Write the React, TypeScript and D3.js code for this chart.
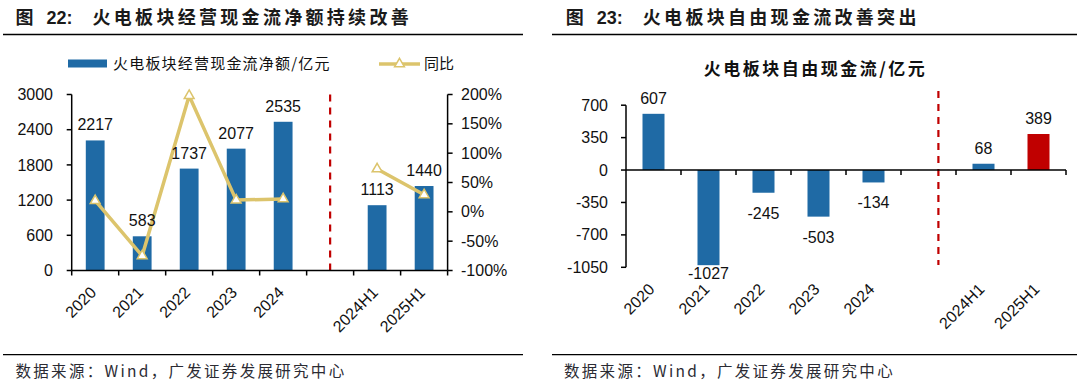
import React from "react";
import * as d3 from "d3";

// ---------- data ----------
const leftCats = ["2020", "2021", "2022", "2023", "2024", "gap", "2024H1", "2025H1"];
const leftLabels = ["2020", "2021", "2022", "2023", "2024", "", "2024H1", "2025H1"];
const opCash: (number | null)[] = [2217, 583, 1737, 2077, 2535, null, 1113, 1440];
const opYoY: (number | null)[] = [19, -75, 198, 20, 22, null, 73, 29];
const leftTicks = [0, 600, 1200, 1800, 2400, 3000];
const rightTicks = [-100, -50, 0, 50, 100, 150, 200];

const rightCats = ["2020", "2021", "2022", "2023", "2024", "gap", "2024H1", "2025H1"];
const rightLabels = ["2020", "2021", "2022", "2023", "2024", "", "2024H1", "2025H1"];
const freeCash: (number | null)[] = [607, -1027, -245, -503, -134, null, 68, 389];
const fcfTicks = [-1050, -700, -350, 0, 350, 700];

const BLUE = "#1F6AA5";
const RED = "#C00000";
const GOLD = "#DCC46C";
const FONT = "'Liberation Sans', Arial, 'Noto Sans CJK SC', sans-serif";
const CJK = "'Noto Sans CJK SC', 'Liberation Sans', sans-serif";

function LeftChart() {
  const x = d3.scaleBand<string>().domain(leftCats).range([71.7, 447.6]);
  const y = d3.scaleLinear().domain([0, 3000]).range([270.5, 94.5]);
  const yr = d3.scaleLinear().domain([-100, 200]).range([270.5, 94.5]);
  const bw = x.bandwidth();
  const barW = bw * 0.4;
  const cx = (c: string) => (x(c) as number) + bw / 2;
  const line = d3
    .line<number | null>()
    .defined((d) => d != null)
    .x((_, i) => cx(leftCats[i]))
    .y((d) => yr(d as number));
  const tri = d3.symbol().type(d3.symbolTriangle).size(42)();
  const bottom = y(0);
  return (
    <g>
      {opCash.map((v, i) =>
        v == null ? null : (
          <rect key={i} x={cx(leftCats[i]) - barW / 2} y={y(v)} width={barW} height={bottom - y(v)} fill={BLUE} />
        )
      )}
      <line x1={cx("gap")} x2={cx("gap")} y1={y(3000)} y2={bottom} stroke={RED} strokeWidth={2.2} strokeDasharray="7,6" />
      <path d={line(opYoY) || ""} fill="none" stroke={GOLD} strokeWidth={3.5} strokeLinejoin="round" />
      {opYoY.map((v, i) =>
        v == null ? null : (
          <path key={i} d={tri || ""} transform={`translate(${cx(leftCats[i])},${yr(v)})`} fill="#fff" stroke={GOLD} strokeWidth={1.5} />
        )
      )}
      {opCash.map((v, i) =>
        v == null ? null : (
          <text key={i} x={cx(leftCats[i])} y={y(v) - 10} textAnchor="middle" fontSize={16} fill="#111" fontFamily={FONT}>
            {v}
          </text>
        )
      )}
      <line x1={x.range()[0]} x2={x.range()[1]} y1={bottom} y2={bottom} stroke="#000" strokeWidth={1.5} />
      <line x1={x.range()[0]} x2={x.range()[0]} y1={y(3000)} y2={bottom} stroke="#000" strokeWidth={1.5} />
      <line x1={x.range()[1]} x2={x.range()[1]} y1={y(3000)} y2={bottom} stroke="#000" strokeWidth={1.5} />
      {leftCats.map((c, i) => (
        <line key={"bt" + i} x1={x(c) as number} x2={x(c) as number} y1={bottom} y2={bottom + 5} stroke="#000" strokeWidth={1.5} />
      ))}
      <line x1={x.range()[1]} x2={x.range()[1]} y1={bottom} y2={bottom + 5} stroke="#000" strokeWidth={1.5} />
      {leftTicks.map((t) => (
        <g key={"lt" + t}>
          <line x1={x.range()[0] - 5} x2={x.range()[0]} y1={y(t)} y2={y(t)} stroke="#000" strokeWidth={1.5} />
          <text x={53} y={y(t)} dy="0.35em" textAnchor="end" fontSize={16} fill="#111" fontFamily={FONT}>
            {t}
          </text>
        </g>
      ))}
      {rightTicks.map((t) => (
        <g key={"rt" + t}>
          <line x1={x.range()[1]} x2={x.range()[1] + 5} y1={yr(t)} y2={yr(t)} stroke="#000" strokeWidth={1.5} />
          <text x={461} y={yr(t)} dy="0.35em" textAnchor="start" fontSize={16} fill="#111" fontFamily={FONT}>
            {t + "%"}
          </text>
        </g>
      ))}
      {leftLabels.map((l, i) =>
        l === "" ? null : (
          <text
            key={"xl" + i}
            transform={`translate(${cx(leftCats[i]) + 2},${bottom + 23}) rotate(-45)`}
            textAnchor="end"
            fontSize={16}
            fill="#111"
            fontFamily={FONT}
          >
            {l}
          </text>
        )
      )}
      <rect x={68} y={59.5} width={39} height={8} fill={BLUE} />
      <text x={113} y={64} dy="0.35em" fontSize={15} letterSpacing={1.2} fill="#111" fontFamily={CJK}>
        火电板块经营现金流净额/亿元
      </text>
      <line x1={379} x2={420} y1={64} y2={64} stroke={GOLD} strokeWidth={3.5} />
      <path d={tri || ""} transform="translate(399.5,64)" fill="#fff" stroke={GOLD} strokeWidth={1.5} />
      <text x={424} y={64} dy="0.35em" fontSize={15} fill="#111" fontFamily={CJK}>
        同比
      </text>
    </g>
  );
}

function RightChart() {
  const x = d3.scaleBand<string>().domain(rightCats).range([626, 1066]);
  const y = d3.scaleLinear().domain([-1050, 700]).range([267.3, 105.2]);
  const bw = x.bandwidth();
  const barW = bw * 0.4;
  const cx = (c: string) => (x(c) as number) + bw / 2;
  const zero = y(0);
  const plotBottom = y(-1050);
  const sepX = (x("gap") as number) + bw * 0.68;
  return (
    <g>
      {freeCash.map((v, i) =>
        v == null ? null : (
          <rect
            key={i}
            x={cx(rightCats[i]) - barW / 2}
            y={Math.min(y(v), zero)}
            width={barW}
            height={Math.abs(y(v) - zero)}
            fill={i === freeCash.length - 1 ? RED : BLUE}
          />
        )
      )}
      <line x1={sepX} x2={sepX} y1={91} y2={265} stroke={RED} strokeWidth={2.2} strokeDasharray="7,6" />
      {freeCash.map((v, i) =>
        v == null ? null : (
          <text
            key={"l" + i}
            x={cx(rightCats[i])}
            y={v >= 0 ? y(v) - 10 : Math.min(y(v) + 26, plotBottom + 12)}
            textAnchor="middle"
            fontSize={16}
            fill="#111"
            fontFamily={FONT}
          >
            {v}
          </text>
        )
      )}
      <line x1={x.range()[0]} x2={x.range()[1]} y1={zero} y2={zero} stroke="#000" strokeWidth={1.5} />
      <line x1={x.range()[0]} x2={x.range()[0]} y1={y(700)} y2={plotBottom} stroke="#000" strokeWidth={1.5} />
      {rightCats.map((c, i) =>
        i === 0 ? null : (
          <line key={"bt" + i} x1={x(c) as number} x2={x(c) as number} y1={zero} y2={zero + 5} stroke="#000" strokeWidth={1.5} />
        )
      )}
      <line x1={x.range()[1]} x2={x.range()[1]} y1={zero} y2={zero + 5} stroke="#000" strokeWidth={1.5} />
      {fcfTicks.map((t) => (
        <g key={"t" + t}>
          <line x1={x.range()[0] - 5} x2={x.range()[0]} y1={y(t)} y2={y(t)} stroke="#000" strokeWidth={1.5} />
          <text x={608} y={y(t)} dy="0.35em" textAnchor="end" fontSize={16} fill="#111" fontFamily={FONT}>
            {t}
          </text>
        </g>
      ))}
      {rightLabels.map((l, i) =>
        l === "" ? null : (
          <text
            key={"xl" + i}
            transform={`translate(${cx(rightCats[i]) + 2},${plotBottom + 23}) rotate(-45)`}
            textAnchor="end"
            fontSize={16}
            fill="#111"
            fontFamily={FONT}
          >
            {l}
          </text>
        )
      )}
      <text x={815.5} y={69} dy="0.35em" textAnchor="middle" fontSize={17} fontWeight="bold" letterSpacing={2.5} fill="#111" fontFamily={CJK}>
        火电板块自由现金流/亿元
      </text>
    </g>
  );
}

function Header({ x0, num, title, lineX1, lineX2 }: { x0: number; num: string; title: string; lineX1: number; lineX2: number }) {
  return (
    <g fontFamily={CJK} fontWeight="bold" fill="#1a1a1a">
      <text x={x0} y={18} dy="0.35em" fontSize={18}>
        图
      </text>
      <text x={x0 + 31} y={18} dy="0.35em" fontSize={18} fontFamily={FONT}>
        {num + ":"}
      </text>
      <text x={x0 + 77} y={18} dy="0.35em" fontSize={18} letterSpacing={3.3}>
        {title}
      </text>
      <line x1={lineX1} x2={lineX2} y1={34.4} y2={34.4} stroke="#000" strokeWidth={1.5} />
    </g>
  );
}

function Footer({ x0, lineX1, lineX2 }: { x0: number; lineX1: number; lineX2: number }) {
  return (
    <g>
      <line x1={lineX1} x2={lineX2} y1={354.7} y2={354.7} stroke="#000" strokeWidth={1.2} />
      <text x={x0} y={371.5} dy="0.35em" fontSize={15.5} letterSpacing={2.3} fill="#2b2b33" fontFamily={CJK}>
        数据来源：Wind，广发证券发展研究中心
      </text>
    </g>
  );
}

export default function App() {
  return (
    <svg
      width={1080}
      height={382}
      viewBox="0 0 1080 382"
      style={{ position: "absolute", left: 0, top: 0, background: "#fff" }}
    >
      <rect x={0} y={0} width={1080} height={382} fill="#fff" />
      <Header x0={15.5} num="22" title="火电板块经营现金流净额持续改善" lineX1={3} lineX2={523} />
      <Header x0={565.8} num="23" title="火电板块自由现金流改善突出" lineX1={552} lineX2={1077} />
      <LeftChart />
      <RightChart />
      <Footer x0={15.5} lineX1={3} lineX2={523} />
      <Footer x0={564} lineX1={552} lineX2={1077} />
    </svg>
  );
}
